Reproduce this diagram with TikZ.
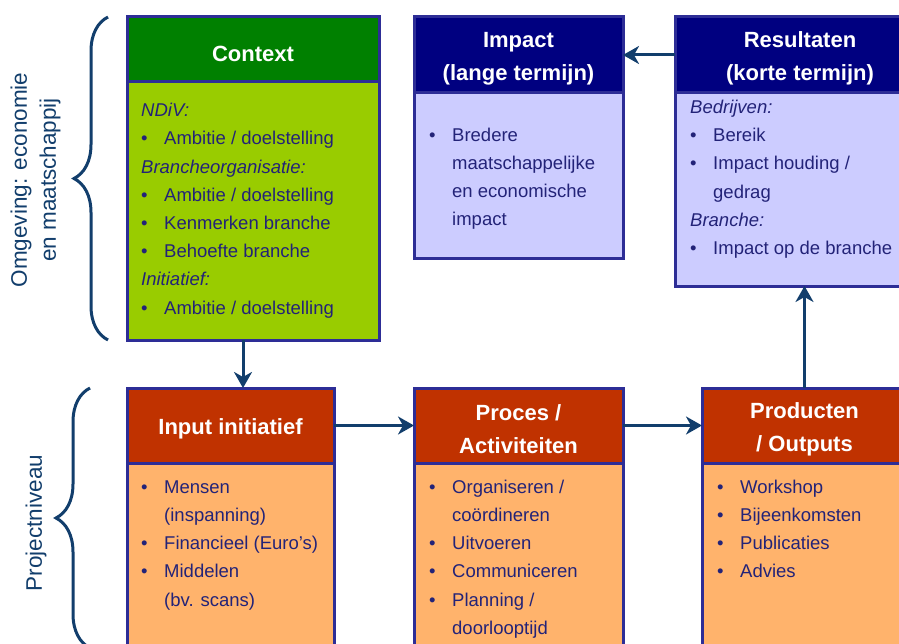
\documentclass[tikz,border=0pt]{standalone}
\usepackage{fontspec}
\setmainfont{Liberation Sans}
\usetikzlibrary{arrows.meta}
\usetikzlibrary{positioning}
\usetikzlibrary{decorations.pathreplacing}

\definecolor{rim}{RGB}{45,45,150}
\definecolor{linkblue}{RGB}{18,62,108}
\definecolor{listblue}{RGB}{35,35,120}
\definecolor{ctxdark}{RGB}{0,128,0}
\definecolor{ctxlight}{RGB}{153,204,0}
\definecolor{impdark}{RGB}{0,0,128}
\definecolor{implight}{RGB}{204,204,255}
\definecolor{prjdark}{RGB}{192,50,0}
\definecolor{prjlight}{RGB}{255,179,108}

\newcommand{\itm}[1]{\strut\makebox[23pt][l]{\textbullet}#1}
\newcommand{\cnt}[1]{\strut\hspace*{23pt}#1}
\newcommand{\lbl}[1]{\strut\textit{#1}}
\newcommand{\hdr}[1]{\rule{0pt}{23.5pt}#1}

\begin{document}
\begin{tikzpicture}[
				x=1pt, y=-1pt,
				headbox/.style={draw=rim, line width=3pt, outer sep=0pt, inner sep=0pt,
					text=white, align=center, font=\bfseries\fontsize{22}{33}\selectfont},
				bodybox/.style={draw=rim, line width=3pt, outer sep=0pt, inner sep=0pt},
				listtext/.style={inner sep=0pt, align=left, text=listblue,
					font=\fontsize{18.5}{28.2}\selectfont},
				arrow/.style={line width=3pt, draw=linkblue,
					-{Stealth[length=16pt, width=18pt, inset=5pt]}},
				brace/.style={decorate, decoration={brace, amplitude=34pt},
					line width=3pt, draw=linkblue},
				sidelabel/.style={rotate=90, align=center, text=linkblue,
					font=\fontsize{22.5}{29}\selectfont},
			]
				\path[use as bounding box, clip] (0,0) rectangle (899,644);

				% omgeving
				\node (ctxhead) [headbox, fill=ctxdark, minimum width=252pt, minimum height=65pt] at (253,49.5) {\hdr{Context}};
				\node (ctxbody) [bodybox, fill=ctxlight, minimum width=252pt, minimum height=258pt, below=0pt of ctxhead] {};
				\node (ctxtext) [listtext, below right=14.8pt and 14pt of ctxhead.south west] {%
					\lbl{NDiV:}\\
					\itm{Ambitie / doelstelling}\\
					\lbl{Brancheorganisatie:}\\
					\itm{Ambitie / doelstelling}\\
					\itm{Kenmerken branche}\\
					\itm{Behoefte branche}\\
					\lbl{Initiatief:}\\
					\itm{Ambitie / doelstelling}};

				\node (imphead) [headbox, fill=impdark, minimum width=209pt, minimum height=76pt,
					right=35pt of ctxhead.north east, anchor=north west] {\hdr{Impact}\\(lange termijn)};
				\node (impbody) [bodybox, fill=implight, minimum width=209pt, minimum height=166pt, below=0pt of imphead] {};
				\node (imptext) [listtext, below right=28.3pt and 15pt of imphead.south west] {%
					\itm{Bredere}\\
					\cnt{maatschappelijke}\\
					\cnt{en economische}\\
					\cnt{impact}};

				\node (reshead) [headbox, fill=impdark, minimum width=250pt, minimum height=76pt,
					right=52pt of imphead.north east, anchor=north west] {\hdr{Resultaten}\\(korte termijn)};
				\node (resbody) [bodybox, fill=implight, minimum width=250pt, minimum height=193pt, below=0pt of reshead] {};
				\node (restext) [listtext, below right=0.5pt and 15pt of reshead.south west] {%
					\lbl{Bedrijven:}\\
					\itm{Bereik}\\
					\itm{Impact houding /}\\
					\cnt{gedrag}\\
					\lbl{Branche:}\\
					\itm{Impact op de branche}};

				% projectniveau
				\node (inphead) [headbox, fill=prjdark, minimum width=207pt, minimum height=75pt,
					below=48pt of ctxbody.south west, anchor=north west] {\hdr{Input initiatief}};
				\node (inpbody) [bodybox, fill=prjlight, minimum width=207pt, minimum height=185pt, below=0pt of inphead] {};
				\node (inptext) [listtext, below right=10.3pt and 14pt of inphead.south west] {%
					\itm{Mensen}\\
					\cnt{(inspanning)}\\
					\itm{Financieel (Euro's)}\\
					\itm{Middelen}\\
					\cnt{(bv. scans)}};

				\node (prohead) [headbox, fill=prjdark, minimum width=209pt, minimum height=75pt,
					right=80pt of inphead.north east, anchor=north west] {\hdr{Proces /}\\Activiteiten};
				\node (probody) [bodybox, fill=prjlight, minimum width=209pt, minimum height=185pt, below=0pt of prohead] {};
				\node (protext) [listtext, below right=10.3pt and 15pt of prohead.south west] {%
					\itm{Organiseren /}\\
					\cnt{coördineren}\\
					\itm{Uitvoeren}\\
					\itm{Communiceren}\\
					\itm{Planning /}\\
					\cnt{doorlooptijd}};

				\node (prdhead) [headbox, fill=prjdark, minimum width=205pt, minimum height=75pt,
					right=79pt of prohead.north east, anchor=north west] {\hdr{Producten}\\/ Outputs};
				\node (prdbody) [bodybox, fill=prjlight, minimum width=205pt, minimum height=185pt, below=0pt of prdhead] {};
				\node (prdtext) [listtext, below right=10.3pt and 15pt of prdhead.south west] {%
					\itm{Workshop}\\
					\itm{Bijeenkomsten}\\
					\itm{Publicaties}\\
					\itm{Advies}};

				% zijlabels
				\node (envlabel) [sidelabel] at (35.5,180) {Omgeving: economie\\en maatschappij};
				\node (prjlabel) [sidelabel] at (36,523) {Projectniveau};
				\draw[brace] ([xshift=-19pt]ctxbody.south west) -- ([xshift=-19pt]ctxhead.north west);
				\draw[brace] ([xshift=-37pt]inpbody.south west) -- ([xshift=-37pt]inphead.north west);

				\draw[arrow] (reshead.west) -- (imphead.east);
				\draw[arrow] ([xshift=-10pt]ctxbody.south) -- ([xshift=-10pt]ctxbody.south |- inphead.north);
				\draw[arrow] (inphead.east) -- (prohead.west);
				\draw[arrow] (prohead.east) -- (prdhead.west);
				\draw[arrow] (prdhead.north) -- (prdhead.north |- resbody.south);
			\end{tikzpicture}
\end{document}
